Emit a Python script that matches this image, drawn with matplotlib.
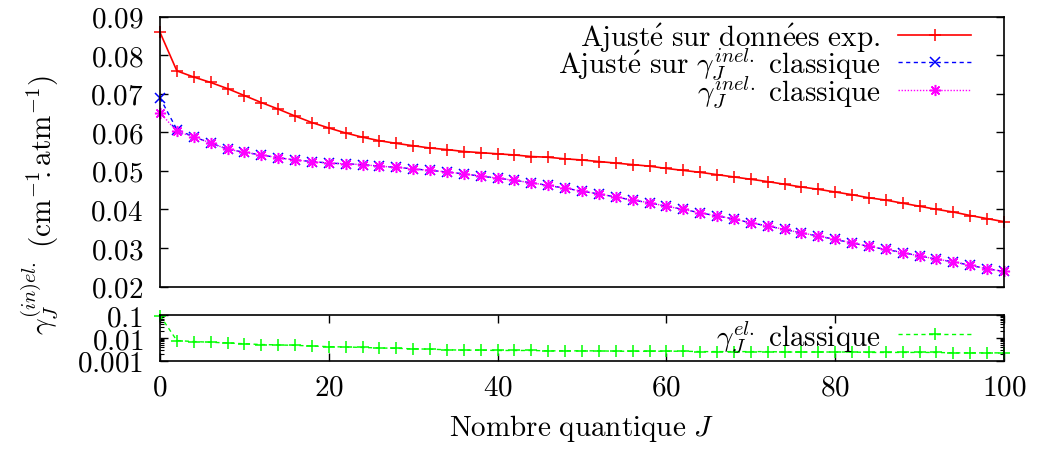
import matplotlib
matplotlib.use("Agg")
import matplotlib.pyplot as plt
from matplotlib.ticker import FixedLocator, FuncFormatter, LogLocator, NullFormatter

plt.rcParams["mathtext.fontset"] = "cm"
plt.rcParams["font.family"] = ["cmr10", "DejaVu Serif"]
plt.rcParams["axes.formatter.use_mathtext"] = True

J = list(range(0, 101, 2))

fit_exp = [0.0859, 0.0759, 0.0743, 0.0729, 0.0713, 0.0695, 0.0677, 0.0660, 0.0642, 0.0625,
           0.0611, 0.0598, 0.0587, 0.0578, 0.0571, 0.0565, 0.0559, 0.0555, 0.0550, 0.0547,
           0.0544, 0.0541, 0.0537, 0.0535, 0.0531, 0.0528, 0.0524, 0.0520, 0.0516, 0.0512,
           0.0506, 0.0501, 0.0496, 0.0490, 0.0484, 0.0478, 0.0472, 0.0465, 0.0458, 0.0452,
           0.0445, 0.0438, 0.0430, 0.0424, 0.0416, 0.0408, 0.0400, 0.0393, 0.0384, 0.0376,
           0.0368]

fit_inel = [0.0689, 0.0607, 0.0588, 0.0572, 0.0556, 0.0548, 0.0541, 0.0534, 0.0528, 0.0524,
            0.0520, 0.0518, 0.0516, 0.0512, 0.0509, 0.0505, 0.0501, 0.0497, 0.0492, 0.0486,
            0.0481, 0.0475, 0.0469, 0.0462, 0.0455, 0.0447, 0.0440, 0.0432, 0.0424, 0.0417,
            0.0408, 0.0400, 0.0391, 0.0383, 0.0375, 0.0365, 0.0357, 0.0348, 0.0339, 0.0331,
            0.0322, 0.0313, 0.0304, 0.0296, 0.0288, 0.0279, 0.0271, 0.0264, 0.0255, 0.0246,
            0.0239]

inel_classic = [0.0651, 0.0602, 0.0588, 0.0572, 0.0556, 0.0548, 0.0541, 0.0534, 0.0528, 0.0524,
                0.0520, 0.0518, 0.0516, 0.0512, 0.0509, 0.0505, 0.0501, 0.0497, 0.0492, 0.0486,
                0.0481, 0.0475, 0.0469, 0.0462, 0.0455, 0.0447, 0.0440, 0.0432, 0.0424, 0.0417,
                0.0408, 0.0400, 0.0391, 0.0383, 0.0375, 0.0365, 0.0357, 0.0348, 0.0339, 0.0331,
                0.0322, 0.0313, 0.0304, 0.0296, 0.0288, 0.0279, 0.0271, 0.0264, 0.0255, 0.0246,
                0.0239]

el_classic = [0.095, 0.0076, 0.0069, 0.0064, 0.0060, 0.0055, 0.0051, 0.0049, 0.0047, 0.0044,
              0.0041, 0.0040, 0.0038, 0.0036, 0.0035, 0.0033, 0.0032, 0.0030, 0.0029, 0.0029,
              0.0028, 0.0028, 0.0028, 0.0027, 0.0027, 0.0027, 0.0027, 0.0026, 0.0026, 0.0026,
              0.0026, 0.0026, 0.0025, 0.0025, 0.0025, 0.0025, 0.0025, 0.0024, 0.0024, 0.0024,
              0.0024, 0.0024, 0.0023, 0.0023, 0.0023, 0.0023, 0.0023, 0.0022, 0.0022, 0.0022,
              0.0022]

top_yticks = [0.02, 0.03, 0.04, 0.05, 0.06, 0.07, 0.08, 0.09]
bot_yticks = [0.001, 0.01, 0.1]
xticks = [0, 20, 40, 60, 80, 100]

FS = 21
W, H = 1039, 452
fig = plt.figure(figsize=(W / 100, H / 100), dpi=100)

ax = fig.add_axes([160 / W, 1 - 287.5 / H, 844 / W, 270 / H])
axb = fig.add_axes([160 / W, 1 - 361.7 / H, 844 / W, 45.7 / H])

ax.plot(J, fit_exp, color="#ff0000", lw=1.2, marker="+", ms=8, mew=1.1,
        label=r"$\mathrm{Ajust\acute{e}\ sur\ donn\acute{e}es\ exp.}$", clip_on=False)
ax.plot(J, fit_inel, color="#0000ff", lw=1.0, ls=(0, (3, 2.5)), marker="x", ms=7, mew=1.1,
        label=r"$\mathrm{Ajust\acute{e}\ sur\ }\gamma_J^{inel.}\mathrm{\ classique}$", clip_on=False)
ax.plot(J, inel_classic, color="#ff00ff", lw=1.0, ls=(0, (1, 1.2)), marker=(8, 2, 0), ms=8, mew=1.1,
        label=r"$\gamma_J^{inel.}\mathrm{\ classique}$", clip_on=False)

ax.set_xlim(0, 100)
ax.set_ylim(0.02, 0.09)
ax.yaxis.set_major_locator(FixedLocator(top_yticks))
ax.yaxis.set_major_formatter(FuncFormatter(lambda v, p: f"${v:.2f}$"))
ax.tick_params(axis="y", direction="in", length=6, width=1, right=True, labelsize=FS, pad=12)
ax.tick_params(axis="x", bottom=False, top=False, labelbottom=False)
ax.legend(loc="upper right", bbox_to_anchor=(0.961, 0.985), frameon=False, fontsize=FS,
          markerfirst=False, borderpad=0, borderaxespad=0, handlelength=2.5, handletextpad=0.6,
          labelspacing=-0.28, numpoints=1)

axb.plot(J, el_classic, color="#00ff00", lw=1.0, ls=(0, (3, 2.5)), marker="+", ms=8, mew=1.1,
         label=r"$\gamma_J^{el.}\mathrm{\ classique}$", clip_on=False)
axb.set_yscale("log")
axb.set_xlim(0, 100)
axb.set_ylim(0.001, 0.1)
axb.yaxis.set_major_locator(FixedLocator(bot_yticks))
axb.yaxis.set_major_formatter(FuncFormatter(lambda v, p: f"${v:g}$"))
axb.yaxis.set_minor_locator(LogLocator(base=10, subs=range(2, 10)))
axb.yaxis.set_minor_formatter(NullFormatter())
axb.xaxis.set_major_locator(FixedLocator(xticks))
axb.xaxis.set_major_formatter(FuncFormatter(lambda v, p: f"${v:.0f}$"))
axb.tick_params(axis="both", which="major", direction="in", length=6, width=1,
                top=True, right=True, labelsize=FS)
axb.tick_params(axis="y", which="major", pad=12)
axb.tick_params(axis="x", which="major", pad=10)
axb.tick_params(axis="y", which="minor", direction="in", length=3, width=0.8, right=True)
axb.legend(loc="center right", bbox_to_anchor=(0.961, 0.54), frameon=False, fontsize=FS,
           markerfirst=False, borderpad=0, borderaxespad=0, handlelength=2.5, handletextpad=0.6,
           numpoints=1)
axb.set_xlabel(r"$\mathrm{Nombre\ quantique\ }J$", fontsize=FS, labelpad=8)

for a in (ax, axb):
    for s in a.spines.values():
        s.set_linewidth(1.2)

fig.text(40 / W, 1 - 205 / H,
         r"$\gamma_J^{(in)el.}\ \mathrm{(cm}^{-1}\!\!\mathrm{.atm}^{-1}\mathrm{)}$",
         rotation=90, ha="center", va="center", fontsize=FS)

fig.savefig("out.png", dpi=100)
